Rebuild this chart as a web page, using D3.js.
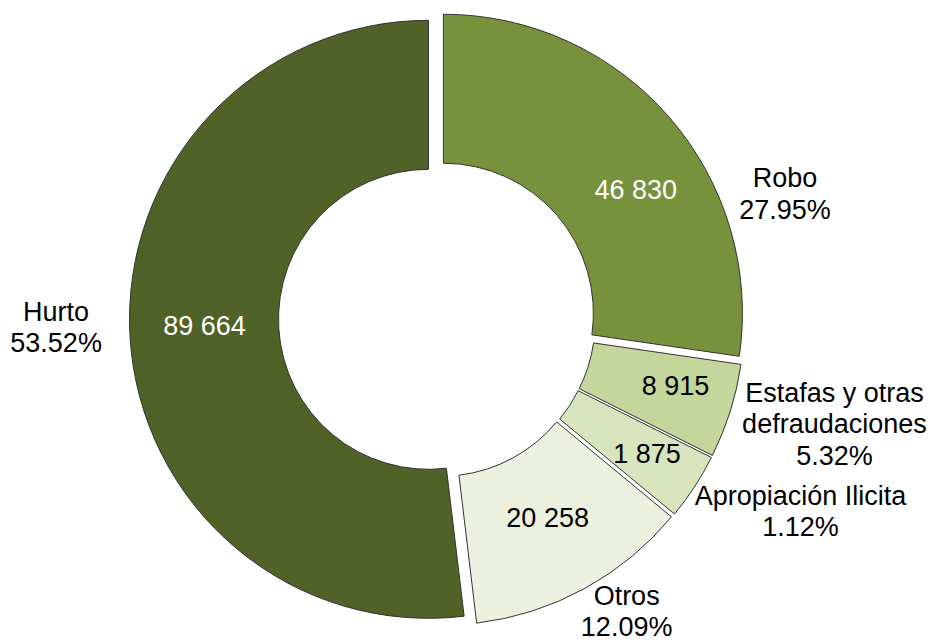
<!DOCTYPE html>
<html>
<head>
<meta charset="utf-8">
<script src="https://cdn.jsdelivr.net/npm/d3@7"></script>
<style>
  body { margin: 0; background: #fff; }
  text { font-family: "Liberation Sans", Arial, sans-serif; }
</style>
</head>
<body>
<div id="chart"></div>
<script>
// data
var categories = ["Robo", "Estafas y otras defraudaciones", "Apropiación Ilicita", "Otros", "Hurto"];
var labelLines = [["Robo"], ["Estafas y otras", "defraudaciones"], ["Apropiación Ilicita"], ["Otros"], ["Hurto"]];
var counts = [46830, 8915, 1875, 20258, 89664];
var percents = [27.95, 5.32, 1.12, 12.09, 53.52];
// wedge sizes (%) as they are drawn in the reference (Apropiación is drawn wider than its share)
var drawnShares = [27.3, 5.1, 3.6, 12.1, 51.9];

var fills = ["#76923C", "#C3D69B", "#D7E4BD", "#EBF1DE", "#4F6228"];
var valueColors = ["#fff", "#000", "#000", "#000", "#fff"];

// layout
var width = 931, height = 643;
var cx = 437, cy = 318.8;
var outerR = 299, innerR = 150;
var explode = 8.5;
var fontSize = 27, lineH = 31.5;
// [angle shift in degrees from wedge middle, radius from wedge centre]
var valuePos = [[8, 229], [-2, 239], [-0.5, 241], [-0.5, 219], [2, 224]];
// [angle shift in degrees from wedge middle, radius from chart centre]
var namePos = [[21, 370], [-2.7, 411], [-5.3, 411], [-4.4, 348], [2.2, 381]];

var fmt = d3.formatLocale({ decimal: ".", thousands: " ", grouping: [3], currency: ["", ""] }).format(",d");

var rows = categories.map(function(c, i) {
  return { name: c, lines: labelLines[i], count: counts[i], pct: percents[i], share: drawnShares[i], i: i };
});

var svg = d3.select("#chart").append("svg")
  .attr("width", width)
  .attr("height", height);

var pie = d3.pie()
  .sort(null)
  .value(function(d) { return d.share; })
  .startAngle(0)
  .endAngle(2 * Math.PI);

var arc = d3.arc()
  .innerRadius(innerR)
  .outerRadius(outerR);

var arcs = pie(rows);

function polar(a, r) {
  return [r * Math.sin(a), -r * Math.cos(a)];
}
function mid(d) { return (d.startAngle + d.endAngle) / 2; }
var rad = Math.PI / 180;

var g = svg.append("g")
  .attr("transform", "translate(" + cx + "," + cy + ")");

var slice = g.selectAll("g.slice")
  .data(arcs)
  .enter().append("g")
  .attr("class", "slice")
  .attr("transform", function(d) {
    var p = polar(mid(d), explode);
    return "translate(" + p[0] + "," + p[1] + ")";
  });

slice.append("path")
  .attr("d", arc)
  .style("fill", function(d) { return fills[d.data.i]; })
  .style("stroke", "#333")
  .style("stroke-width", 1);

// value labels inside the ring
slice.append("text")
  .attr("transform", function(d) {
    var s = valuePos[d.data.i];
    var p = polar(mid(d) + s[0] * rad, s[1]);
    return "translate(" + p[0] + "," + p[1] + ")";
  })
  .attr("text-anchor", "middle")
  .attr("dy", fontSize * 0.36)
  .style("font-size", fontSize + "px")
  .style("fill", function(d) { return valueColors[d.data.i]; })
  .text(function(d) { return fmt(d.data.count); });

// category + percent labels outside
var names = g.selectAll("text.name")
  .data(arcs)
  .enter().append("text")
  .attr("class", "name")
  .attr("text-anchor", "middle")
  .style("font-size", fontSize + "px")
  .style("fill", "#000")
  .each(function(d) {
    var s = namePos[d.data.i];
    var p = polar(mid(d) + s[0] * rad, s[1]);
    var lines = d.data.lines.concat([d.data.pct.toFixed(2) + "%"]);
    var n = lines.length;
    var t = d3.select(this);
    lines.forEach(function(l, k) {
      t.append("tspan")
        .attr("x", p[0])
        .attr("y", p[1] + (k - (n - 1) / 2) * lineH + fontSize * 0.36)
        .text(l);
    });
  });
</script>
</body>
</html>
